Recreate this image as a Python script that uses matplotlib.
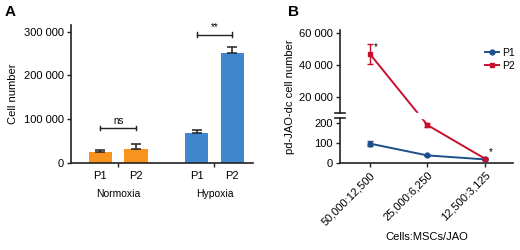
import numpy as np
import matplotlib.pyplot as plt
from matplotlib.lines import Line2D

# Panel A data
conditions = ['Normoxia', 'Hypoxia']
passages = ['P1', 'P2']
normoxia_mean = [26000, 31000]
normoxia_err = [4000, 12000]
hypoxia_mean = [69000, 250000]
hypoxia_err = [5500, 15000]

# Panel B data
ratios = ['50,000:12,500', '25,000:6,250', '12,500:3,125']
p1_vals = [97, 38, 18]
p1_err = [11, 3, 2]
p2_vals = [47000, 190, 22]
p2_err = [6000, 8, 3]
p2_stars = ['*', '**', '*']

plt.rcParams['font.family'] = ['Liberation Sans', 'DejaVu Sans']
plt.rcParams['font.size'] = 7.5

fig = plt.figure(figsize=(5.2, 2.5), dpi=100)
W, H = 520, 250

def box(x0, y0, x1, y1):
    return [x0 / W, 1 - y1 / H, (x1 - x0) / W, (y1 - y0) / H]

orange = '#f7931e'
blue = '#3f86cc'
dark = '#222222'
narrow = ['Liberation Sans Narrow', 'Liberation Sans']

# ---- Panel A ----
axA = fig.add_axes(box(71, 25, 253, 163))
xpos = [0, 1, 2.7, 3.7]
means = normoxia_mean + hypoxia_mean
errs = normoxia_err + hypoxia_err
cols = [orange, orange, blue, blue]
axA.bar(xpos, means, width=0.65, color=cols, zorder=2)
axA.errorbar(xpos, means, yerr=[np.zeros(4), errs], fmt='none',
             ecolor=dark, elinewidth=1.1, capsize=3.5, capthick=1.1, zorder=3)
axA.set_xlim(-0.82, 4.28)
axA.set_ylim(0, 315000)
axA.set_yticks([0, 100000, 200000, 300000])
axA.set_yticklabels(['0', '100 000', '200 000', '300 000'])
axA.set_xticks([0.5, 3.2])
axA.set_xticklabels([])
axA.tick_params(axis='x', length=3, width=1, color=dark)
axA.tick_params(axis='y', length=3, width=1, color=dark, pad=2, labelsize=8)
for s in ['top', 'right']:
    axA.spines[s].set_visible(False)
for s in ['left', 'bottom']:
    axA.spines[s].set_linewidth(1.2)
    axA.spines[s].set_color(dark)
axA.set_ylabel('Cell number', family=narrow, fontsize=8, labelpad=4)
for x, p in zip(xpos, passages * 2):
    axA.text(x, -0.055, p, transform=axA.get_xaxis_transform(),
             ha='center', va='top', fontsize=8)
axA.text(0.5, -0.19, conditions[0], transform=axA.get_xaxis_transform(),
         ha='center', va='top', fontsize=7.5)
axA.text(3.2, -0.19, conditions[1], transform=axA.get_xaxis_transform(),
         ha='center', va='top', fontsize=7.5)

def bracket(ax, x0, x1, y, label):
    ax.plot([x0, x1], [y, y], color=dark, lw=1)
    for xx in (x0, x1):
        ax.plot([xx, xx], [y - 5000, y + 5000], color=dark, lw=1)
    ax.text((x0 + x1) / 2, y + 5000, label, ha='center', va='bottom', fontsize=7)

bracket(axA, 0, 1, 80000, 'ns')
bracket(axA, 2.7, 3.7, 293000, '**')

fig.text(5 / W, 1 - 12 / H, 'A', fontsize=11, fontweight='bold', va='center')
fig.text(288 / W, 1 - 12 / H, 'B', fontsize=11, fontweight='bold', va='center')

# ---- Panel B (broken y-axis via piecewise scale) ----
yb = [-1000, 0, 225, 10000, 62000, 200000]
fb = [-200, 0, 45, 50, 133, 133 + 138000 * 83 / 52000]

def fwd(y):
    return np.interp(y, yb, fb)

def inv(f):
    return np.interp(f, fb, yb)

axB = fig.add_axes(box(340, 30, 513, 163))
axB.set_yscale('function', functions=(fwd, inv))
axB.set_ylim(0, 62000)
xs = np.arange(len(ratios))
p1c = '#1c4f8a'
p2c = '#c8102e'
axB.errorbar(xs, p1_vals, yerr=p1_err, color=p1c, lw=1.4, marker='o', ms=3.5,
             capsize=2, elinewidth=1, zorder=3)
axB.errorbar(xs, p2_vals, yerr=p2_err, color=p2c, lw=1.4, marker='s', ms=3.5,
             capsize=2, elinewidth=1, zorder=3)
for x, v, s in zip(xs, p2_vals, p2_stars):
    axB.annotate(s, (x, v), xytext=(3, 1), textcoords='offset points',
                 ha='left', va='bottom', fontsize=7)
axB.set_xlim(-0.52, 2.49)
axB.set_xticks(xs)
axB.set_xticklabels(ratios, rotation=45, ha='right', rotation_mode='anchor', fontsize=8)
axB.set_yticks([0, 100, 200, 20000, 40000, 60000])
axB.set_yticklabels(['0', '100', '200', '20 000', '40 000', '60 000'], fontsize=8)
axB.yaxis.set_minor_locator(plt.NullLocator())
axB.tick_params(length=3, width=1, color=dark, pad=2)
for s in ['top', 'right', 'left']:
    axB.spines[s].set_visible(False)
axB.spines['bottom'].set_linewidth(1.2)
axB.spines['bottom'].set_color(dark)
# white band hiding the line inside the break, then split spine
axB.axhspan(235, 9700, color='white', zorder=4)
tr = axB.get_yaxis_transform()
axB.plot([0, 0], [0, 225], color=dark, lw=1.2, transform=tr, clip_on=False, zorder=5)
axB.plot([0, 0], [10000, 62000], color=dark, lw=1.2, transform=tr, clip_on=False, zorder=5)
axB.plot([-0.03, 0.03], [225, 225], color=dark, lw=1.2, transform=tr, clip_on=False, zorder=5)
axB.plot([-0.03, 0.03], [10000, 10000], color=dark, lw=1.2, transform=tr, clip_on=False, zorder=5)
axB.set_ylabel('pd-JAO-dc cell number', family=narrow, fontsize=8, labelpad=3)
axB.set_xlabel('Cells:MSCs/JAO', family=narrow, fontsize=8, labelpad=4)
handles = [Line2D([], [], color=p1c, lw=1.4, marker='o', ms=3.5),
           Line2D([], [], color=p2c, lw=1.4, marker='s', ms=3.5)]
fig.legend(handles, passages, loc='upper left', bbox_to_anchor=(485 / W, 1 - 48 / H),
           frameon=False, handlelength=1.3, handletextpad=0.35, fontsize=7.5,
           labelspacing=0.25, borderaxespad=0, borderpad=0)

fig.savefig('out.png', dpi=100)
